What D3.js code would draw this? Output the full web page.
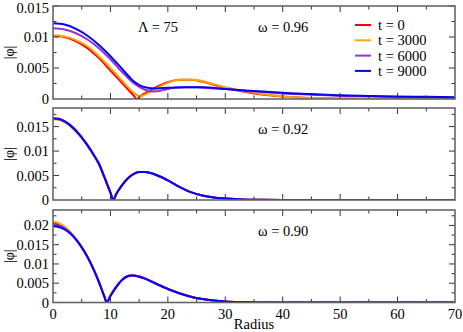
<!DOCTYPE html>
<html>
<head>
<meta charset="utf-8">
<script src="https://cdn.jsdelivr.net/npm/d3@7"></script>
<style>
  body { margin: 0; background: #fff; }
  text { font-family: "Liberation Serif", "DejaVu Serif", serif; }
</style>
</head>
<body>
<div id="chart"></div>
<script>
// ---- data ----
var seriesNames = ["t = 0", "t = 3000", "t = 6000", "t = 9000"];
var seriesColors = ["#ff0000", "#ffa500", "#9932cc", "#0000ff"];

// panel 1, omega = 0.96
var r96red    = [0, 2, 4, 6, 8, 10, 12, 14, 14.6, 15.2, 16, 18, 20, 22, 24, 26, 28, 30, 32, 35, 40, 45, 50, 55, 60, 70];
var p96red    = [0.0102, 0.0100, 0.0093, 0.0082, 0.0066, 0.0046, 0.0026, 0.0006, 0.0, 0.0004, 0.0009, 0.0019, 0.0027, 0.0031, 0.0031, 0.0028, 0.0023, 0.0018, 0.0014, 0.0009, 0.0004, 0.00015, 0.00005, 0.00002, 0.0, 0.0];
var r96orange = [0, 2, 4, 6, 8, 10, 12, 14, 15.2, 16, 18, 20, 22, 24, 26, 28, 30, 32, 35, 40, 45, 50, 55, 60, 70];
var p96orange = [0.0103, 0.0101, 0.0095, 0.0085, 0.0069, 0.0050, 0.0030, 0.0011, 0.0004, 0.0007, 0.0017, 0.0026, 0.0031, 0.0031, 0.0029, 0.0024, 0.0019, 0.0015, 0.0010, 0.0004, 0.00015, 0.00005, 0.00002, 0.00001, 0.0];
var r96purple = [0, 2, 4, 6, 8, 10, 12, 14, 16, 17.7, 19, 21, 23, 25, 28, 30, 35, 40, 45, 50, 55, 60, 65, 70];
var p96purple = [0.0114, 0.0112, 0.0106, 0.0096, 0.0082, 0.0064, 0.0044, 0.0026, 0.0015, 0.0012, 0.0014, 0.0018, 0.0019, 0.0019, 0.0017, 0.0016, 0.0012, 0.0009, 0.0007, 0.0005, 0.0004, 0.0003, 0.00025, 0.0002];
var r96blue   = [0, 2, 4, 6, 8, 10, 12, 14, 16, 18, 20, 23, 26, 30, 35, 40, 45, 50, 55, 60, 65, 70];
var p96blue   = [0.0122, 0.0120, 0.0113, 0.0102, 0.0087, 0.0069, 0.0049, 0.0029, 0.0019, 0.0017, 0.0018, 0.0019, 0.0019, 0.0016, 0.0013, 0.0010, 0.0008, 0.0006, 0.0005, 0.0004, 0.00035, 0.0003];

// panel 2, omega = 0.92 (all four nearly on top of each other)
var r92 = [0, 1, 2, 3, 4, 5, 6, 7, 8, 9, 10, 10.5, 11, 12, 13, 14, 15, 16, 17, 18, 20, 22, 24, 26, 28, 30, 33, 36, 40, 70];
var p92red    = [0.0166, 0.0165, 0.0160, 0.0152, 0.0141, 0.0127, 0.0111, 0.0093, 0.0073, 0.0045, 0.0015, 0.0, 0.0012, 0.0030, 0.0044, 0.0053, 0.0057, 0.0057, 0.0055, 0.0051, 0.0040, 0.0027, 0.0016, 0.0009, 0.0005, 0.0003, 0.0001, 0.00004, 0.0, 0.0];
var p92orange = [0.0165, 0.0164, 0.0159, 0.0151, 0.0140, 0.0127, 0.0111, 0.0093, 0.0073, 0.0045, 0.0015, 0.0, 0.0012, 0.0030, 0.0044, 0.0053, 0.0057, 0.0057, 0.0055, 0.0051, 0.0040, 0.0027, 0.0016, 0.0009, 0.0005, 0.0003, 0.0001, 0.00004, 0.0, 0.0];
var p92purple = [0.0166, 0.0165, 0.0160, 0.0152, 0.0141, 0.0128, 0.0112, 0.0094, 0.0074, 0.0045, 0.0015, 0.0, 0.0012, 0.0030, 0.0044, 0.0053, 0.0057, 0.0057, 0.0055, 0.0051, 0.0040, 0.0027, 0.0016, 0.0009, 0.0005, 0.0003, 0.0001, 0.00004, 0.0, 0.0];
var p92blue   = [0.0167, 0.0166, 0.0161, 0.0153, 0.0142, 0.0128, 0.0112, 0.0094, 0.0074, 0.0045, 0.0015, 0.0, 0.0012, 0.0030, 0.0044, 0.0053, 0.0057, 0.0057, 0.0055, 0.0051, 0.0040, 0.0027, 0.0016, 0.0009, 0.0005, 0.0003, 0.0001, 0.00004, 0.0, 0.0];

// panel 3, omega = 0.90
var r90 = [0, 1, 2, 3, 4, 5, 6, 7, 8, 9, 9.35, 10, 11, 12, 13, 13.7, 15, 16, 18, 20, 22, 24, 26, 28, 30, 33, 36, 40, 70];
var p90red    = [0.0206, 0.0203, 0.0195, 0.0182, 0.0165, 0.0144, 0.0119, 0.0089, 0.0054, 0.0013, 0.0, 0.0018, 0.0041, 0.0059, 0.0069, 0.0071, 0.0068, 0.0063, 0.0049, 0.0035, 0.0024, 0.0015, 0.0009, 0.0005, 0.00025, 0.0001, 0.00003, 0.0, 0.0];
var p90orange = [0.0210, 0.0206, 0.0197, 0.0183, 0.0165, 0.0144, 0.0119, 0.0089, 0.0054, 0.0013, 0.0, 0.0018, 0.0040, 0.0058, 0.0068, 0.0070, 0.0067, 0.0062, 0.0048, 0.0035, 0.0024, 0.0015, 0.0009, 0.0005, 0.00025, 0.0001, 0.00003, 0.0, 0.0];
var p90purple = [0.0203, 0.0200, 0.0193, 0.0181, 0.0164, 0.0143, 0.0118, 0.0088, 0.0053, 0.0013, 0.0, 0.0017, 0.0040, 0.0058, 0.0068, 0.0070, 0.0067, 0.0062, 0.0048, 0.0035, 0.0024, 0.0015, 0.0009, 0.0005, 0.00025, 0.0001, 0.00003, 0.0, 0.0];
var p90blue   = [0.0198, 0.0196, 0.0190, 0.0179, 0.0163, 0.0143, 0.0118, 0.0088, 0.0053, 0.0013, 0.0, 0.0017, 0.0040, 0.0058, 0.0068, 0.0070, 0.0067, 0.0062, 0.0048, 0.0035, 0.0024, 0.0015, 0.0009, 0.0005, 0.00025, 0.0001, 0.00003, 0.0, 0.0];

var xTicks = [0, 10, 20, 30, 40, 50, 60, 70];

// ---- layout ----
var width = 463, height = 332;
var left = 53, right = 455;

var panels = [
    { top: 6,   bottom: 99,  ymax: 0.015,  yTicks: [0, 0.005, 0.01, 0.015], label: "ω = 0.96",
      r: [r96red, r96orange, r96purple, r96blue], p: [p96red, p96orange, p96purple, p96blue] },
    { top: 108, bottom: 200, ymax: 0.0188, yTicks: [0, 0.005, 0.01, 0.015], label: "ω = 0.92",
      r: [r92, r92, r92, r92], p: [p92red, p92orange, p92purple, p92blue] },
    { top: 210, bottom: 302.5, ymax: 0.024, yTicks: [0, 0.005, 0.01, 0.015, 0.02], label: "ω = 0.90",
      r: [r90, r90, r90, r90], p: [p90red, p90orange, p90purple, p90blue] }
];

var svg = d3.select("#chart").append("svg")
    .attr("width", width)
    .attr("height", height);

var x = d3.scaleLinear().domain([0, 70]).range([left, right]);
var fmt = d3.format("~g");

panels.forEach(function(pan, pi) {
    var y = d3.scaleLinear().domain([0, pan.ymax]).range([pan.bottom, pan.top]);
    var g = svg.append("g");

    // clip for the curves
    var clipId = "clip" + pi;
    svg.append("clipPath").attr("id", clipId)
      .append("rect")
        .attr("x", left).attr("y", pan.top)
        .attr("width", right - left).attr("height", pan.bottom - pan.top);

    // curves: red, orange, purple, blue (blue on top)
    var line = d3.line()
        .x(function(d) { return x(d[0]); })
        .y(function(d) { return y(d[1]); })
        .curve(d3.curveMonotoneX);

    pan.p.forEach(function(vals, si) {
        var pts = vals.map(function(v, i) { return [pan.r[si][i], v]; });
        g.append("path")
            .attr("clip-path", "url(#" + clipId + ")")
            .attr("d", line(pts))
            .attr("fill", "none")
            .attr("stroke", seriesColors[si])
            .attr("stroke-width", 2);
    });

    // ticks pointing inward on all four sides
    var minorX = d3.range(0, 70.01, 5);
    minorX.forEach(function(v) {
        var len = (v % 10 === 0) ? 6 : 3.5;
        if (v === 0 || v === 70) return;
        g.append("line").attr("x1", x(v)).attr("x2", x(v))
            .attr("y1", pan.bottom).attr("y2", pan.bottom - len)
            .attr("stroke", "#333").attr("stroke-width", 1);
        g.append("line").attr("x1", x(v)).attr("x2", x(v))
            .attr("y1", pan.top).attr("y2", pan.top + len)
            .attr("stroke", "#333").attr("stroke-width", 1);
    });
    var minorY = d3.range(0, pan.ymax + 1e-9, 0.0025);
    minorY.forEach(function(v, i) {
        var len = (i % 2 === 0) ? 6 : 3.5;
        if (v === 0) return;
        g.append("line").attr("x1", left).attr("x2", left + len)
            .attr("y1", y(v)).attr("y2", y(v))
            .attr("stroke", "#333").attr("stroke-width", 1);
        g.append("line").attr("x1", right).attr("x2", right - len)
            .attr("y1", y(v)).attr("y2", y(v))
            .attr("stroke", "#333").attr("stroke-width", 1);
    });

    // frame
    g.append("rect")
        .attr("x", left).attr("y", pan.top)
        .attr("width", right - left).attr("height", pan.bottom - pan.top)
        .attr("fill", "none")
        .attr("stroke", "#666")
        .attr("stroke-width", 1.6);

    // y tick labels (keep the top one inside the window)
    g.selectAll(".ylab").data(pan.yTicks).enter().append("text")
        .attr("x", left - 4)
        .attr("y", function(d) { return Math.max(y(d), 8); })
        .attr("dy", "0.35em")
        .attr("text-anchor", "end")
        .style("font-size", "14.5px")
        .text(function(d) { return fmt(d); });

    // y axis title
    g.append("text")
        .attr("transform", "translate(14," + ((pan.top + pan.bottom) / 2) + ") rotate(-90)")
        .attr("text-anchor", "middle")
        .style("font-size", "14px")
        .text("|φ|");

    // omega label
    g.append("text")
        .attr("x", 258)
        .attr("y", pan.top + 26)
        .style("font-size", "14.5px")
        .text(pan.label);

    // x tick labels only on the bottom panel
    if (pi === panels.length - 1) {
        g.selectAll(".xlab").data(xTicks).enter().append("text")
            .attr("x", function(d) { return x(d); })
            .attr("y", pan.bottom + 16)
            .attr("text-anchor", "middle")
            .style("font-size", "14.5px")
            .text(function(d) { return d; });
        g.append("text")
            .attr("x", 254)
            .attr("y", 329)
            .attr("text-anchor", "middle")
            .style("font-size", "14.5px")
            .text("Radius");
    }
});

// Lambda label in the top panel
svg.append("text")
    .attr("x", 138)
    .attr("y", 32)
    .style("font-size", "14.5px")
    .text("Λ = 75");

// legend
var legend = svg.append("g").attr("transform", "translate(355,25)");
seriesNames.forEach(function(name, i) {
    legend.append("line")
        .attr("x1", 0).attr("x2", 16)
        .attr("y1", i * 15.3).attr("y2", i * 15.3)
        .attr("stroke", seriesColors[i])
        .attr("stroke-width", 2);
    legend.append("text")
        .attr("x", 23)
        .attr("y", i * 15.3)
        .attr("dy", "0.35em")
        .style("font-size", "14.5px")
        .text(name);
});
</script>
</body>
</html>
